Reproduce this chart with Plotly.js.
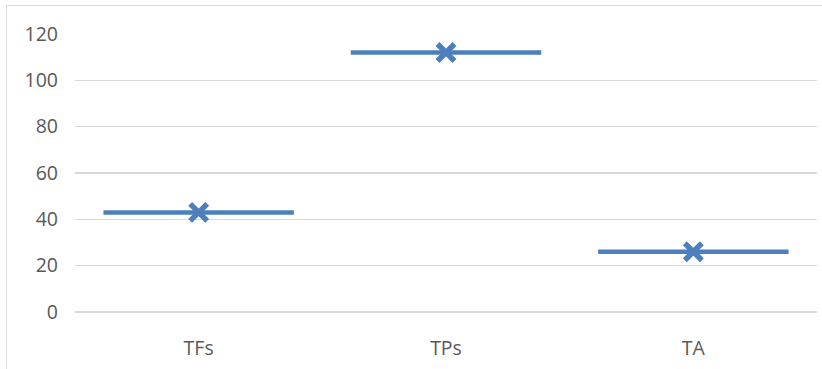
<!DOCTYPE html>
<html>
<head>
<meta charset="utf-8">
<script src="https://cdn.plot.ly/plotly-3.0.1.min.js"></script>
<style>
html,body{margin:0;padding:0;background:#fff;}
#wrap{position:relative;width:822px;height:369px;}
#chart{width:822px;height:369px;}
#frame{position:absolute;left:6px;top:5px;width:830px;height:380px;border:1px solid #d9d9d9;box-sizing:border-box;pointer-events:none;}
</style>
</head>
<body>
<div id="wrap"><div id="chart"></div><div id="frame"></div></div>
<script>
var categories = ["TFs", "TPs", "TA"];
var values = [43, 112, 26];
var yTicks = [0, 20, 40, 60, 80, 100, 120];

var halfWidth = 0.385;
var color = "#4e7fbd";
var traces = [];
categories.forEach(function(c, i) {
  traces.push({
    type: "scatter", mode: "lines",
    x: [i - halfWidth, i + halfWidth], y: [values[i], values[i]],
    line: {color: color, width: 4.5}, hoverinfo: "skip", showlegend: false
  });
});
traces.push({
  type: "scatter", mode: "markers",
  x: categories.map(function(c, i){ return i; }), y: values,
  marker: {symbol: "x-thin", size: 17, color: color, line: {width: 5.5, color: color}},
  showlegend: false, text: categories
});

var font = {family: "Open Sans, Liberation Sans, sans-serif", size: 19.5, color: "#595959"};
var layout = {
  width: 822, height: 369,
  margin: {l: 75, r: 5, t: 34, b: 57},
  paper_bgcolor: "#fff", plot_bgcolor: "#fff",
  showlegend: false,
  xaxis: {
    range: [-0.5, 2.5],
    tickvals: categories.map(function(c, i){ return i; }),
    ticktext: categories,
    showgrid: false, zeroline: false,
    showline: false, ticks: "",
    ticklabelstandoff: 22,
    tickfont: font
  },
  yaxis: {
    range: [0, 120],
    tickvals: yTicks,
    showgrid: true, gridcolor: "#d9d9d9", gridwidth: 1.2,
    zeroline: true, zerolinecolor: "#d9d9d9", zerolinewidth: 1.2,
    showline: false, ticks: "",
    ticklabelstandoff: 16,
    tickfont: font
  }
};
Plotly.newPlot("chart", traces, layout, {displayModeBar: false, staticPlot: true});
</script>
</body>
</html>
